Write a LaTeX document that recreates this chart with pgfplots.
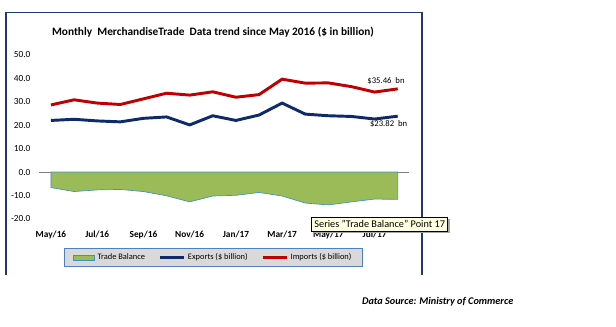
\documentclass[border=0pt]{standalone}
\usepackage{fontspec}
\setmainfont{Carlito}
\usepackage{pgfplots}
\pgfplotsset{compat=1.18}
\definecolor{frame}{HTML}{1F3A6E}
\definecolor{impred}{HTML}{C00000}
\definecolor{expblue}{HTML}{0F2A6B}
\definecolor{tbgreen}{HTML}{9BBB59}
\definecolor{tbedge}{HTML}{3F94BF}
\definecolor{legfill}{HTML}{D9D9D9}
\definecolor{legdraw}{HTML}{4F81BD}
\definecolor{tipfill}{HTML}{FFFFE1}
\pgfplotstableread{
idx imports exports balance
0  28.6  22.0  -6.6
1  30.8  22.5  -8.3
2  29.4  21.8  -7.6
3  28.8  21.4  -7.4
4  31.2  22.9  -8.3
5  33.6  23.5  -10.1
6  32.8  20.1  -12.7
7  34.2  24.0  -10.2
8  31.9  22.0  -9.9
9  33.0  24.3  -8.7
10 39.6  29.4  -10.2
11 37.9  24.7  -13.2
12 38.0  24.0  -14.0
13 36.4  23.7  -12.7
14 34.1  22.6  -11.5
15 35.46 23.82 -11.64
}\tradedata
\begin{document}
\begin{tikzpicture}
\path (0,0) rectangle (462pt,244.5pt);
\draw[frame, line width=0.8pt] (4.5pt,38.25pt) -- (4.5pt,235pt) -- (316.5pt,235pt) -- (316.5pt,38.25pt);
\node[font=\fontsize{8.5}{10}\selectfont\bfseries] at (159.75pt,220.7pt) {Monthly\ \ MerchandiseTrade\ \ Data trend since May 2016 (\$ in billion)};
\begin{axis}[
  at={(29.55pt,80.25pt)}, anchor=south west,
  scale only axis, width=277.4pt, height=123.2pt,
  xmin=-0.5, xmax=15.5, ymin=-20, ymax=50,
  axis line style={draw=none}, major tick length=0pt,
  xtick={0,2,...,14},
  xticklabels={May/16,Jul/16,Sep/16,Nov/16,Jan/17,Mar/17,May/17,Jul/17},
  ytick={-20,-10,...,50},
  /pgf/number format/assume math mode=true,
  yticklabel={\pgfmathprintnumber[fixed,fixed zerofill,precision=1]{\tick}},
  yticklabel style={font=\fontsize{7}{8}\selectfont, xshift=-3.2pt},
  xticklabel style={font=\fontsize{7}{8}\selectfont\bfseries, yshift=-5.5pt},
  legend columns=3,
  legend style={at={(0.4707,-0.2343)}, anchor=center, draw=legdraw, fill=legfill,
    line width=0.7pt, font=\fontsize{6.3}{7}\selectfont, inner xsep=6pt, inner ysep=2pt,
    /tikz/every even column/.append style={column sep=8pt},
    /tikz/every odd column/.append style={column sep=0pt}},
  clip=false,
]
\addplot[gray, line width=0.6pt, forget plot] coordinates {(-0.5,0) (15.5,0)};
\addplot[fill=tbgreen, draw=tbedge, line width=0.5pt,
  legend image code/.code={\draw[fill=tbgreen, draw=tbedge, line width=0.5pt] (0pt,-1.9pt) rectangle (16pt,1.9pt);}]
  table[x=idx, y=balance] \tradedata \closedcycle;
\addlegendentry{Trade Balance}
\addplot[expblue, line width=2.2pt,
  legend image code/.code={\draw[expblue, line width=2.2pt] (0pt,0pt) -- (18pt,0pt);}]
  table[x=idx, y=exports] \tradedata;
\addlegendentry{Exports (\$ billion)}
\addplot[impred, line width=2.2pt,
  legend image code/.code={\draw[impred, line width=2.2pt] (0pt,0pt) -- (18pt,0pt);}]
  table[x=idx, y=imports] \tradedata;
\addlegendentry{Imports (\$ billion)}
\node[anchor=base east, font=\fontsize{6.5}{7}\selectfont, yshift=4pt] at (axis cs:15.5,35.46) {\$35.46\ \ bn};
\node[anchor=base east, font=\fontsize{6.5}{7}\selectfont, yshift=-8.1pt, xshift=2pt] at (axis cs:15.5,23.82) {\$23.82\ \ bn};
\end{axis}
\fill[black!35] (235.3pt,69.75pt) rectangle (337.3pt,80pt);
\draw[black, fill=tipfill, line width=0.5pt] (233.8pt,71.25pt) rectangle (335.8pt,81.5pt);
\node[font=\fontsize{7.7}{9}\selectfont] at (284.8pt,76.2pt) {Series "Trade Balance" Point 17};
\node[anchor=east, font=\fontsize{7.7}{9}\selectfont\bfseries\itshape] at (388.5pt,18pt) {Data Source: Ministry of Commerce};
\end{tikzpicture}
\end{document}
